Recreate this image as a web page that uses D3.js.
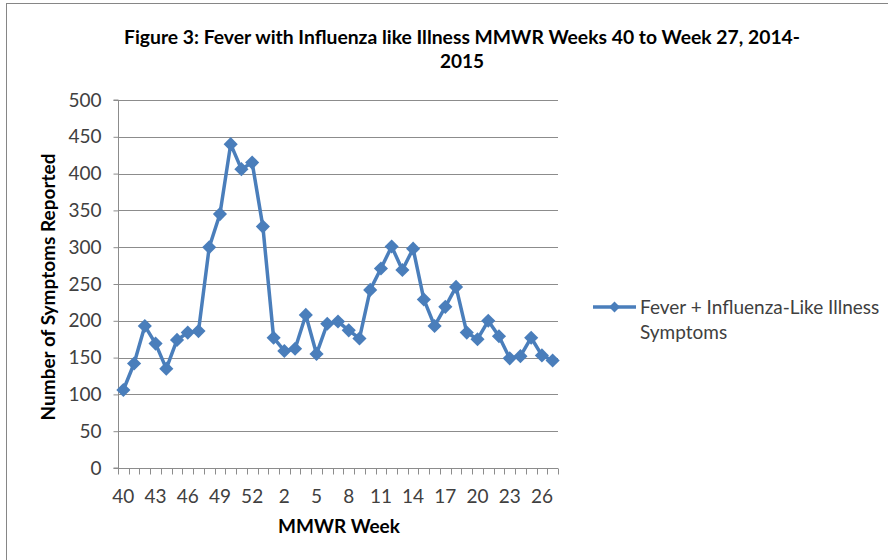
<!DOCTYPE html>
<html>
<head>
<meta charset="utf-8">
<script src="https://cdn.jsdelivr.net/npm/d3@7"></script>
<style>
  body { margin: 0; background: #fff; }
  svg { display: block; font-family: Lato, "Open Sans", sans-serif; }
</style>
</head>
<body>
<div id="chart-area"></div>
<script>
// ** Data **
var weeks = [40, 41, 42, 43, 44, 45, 46, 47, 48, 49, 50, 51, 52, 53,
	1, 2, 3, 4, 5, 6, 7, 8, 9, 10, 11, 12, 13, 14, 15, 16, 17, 18, 19, 20,
	21, 22, 23, 24, 25, 26, 27];
var symptoms = [106, 142, 193, 169, 135, 174, 184, 186, 300, 345, 440, 406, 415, 328,
	177, 159, 162, 208, 155, 196, 199, 187, 176, 242, 271, 301, 269, 298, 229, 193,
	219, 246, 184, 175, 200, 179, 149, 152, 177, 153, 146];
var yTicks = [0, 50, 100, 150, 200, 250, 300, 350, 400, 450, 500];
var seriesName = ["Fever + Influenza-Like Illness", "Symptoms"];

var keys = weeks.map(function(w, i){ return i; });

// ** Dimensions **
var W = 888, H = 560;
var plot = { left: 118, right: 558, top: 100, bottom: 468 };
var blue = "#4a7ebb";
var textColor = "#404040";
var labelSize = 19;

var svg = d3.select("#chart-area")
	.append("svg")
	.attr("width", W)
	.attr("height", H);

// chart frame
svg.append("rect")
	.attr("x", 6.5).attr("y", 3.5)
	.attr("width", 900).attr("height", 600)
	.attr("fill", "none")
	.attr("stroke", "#868686")
	.attr("stroke-width", 1);

// Title
var title = svg.append("text")
	.attr("text-anchor", "middle")
	.attr("font-size", 19)
	.attr("font-weight", "bold")
	.attr("fill", "#000");
title.append("tspan").attr("x", 462).attr("y", 44)
	.attr("textLength", 676).attr("lengthAdjust", "spacingAndGlyphs")
	.text("Figure 3: Fever with Influenza like Illness MMWR Weeks 40 to Week 27, 2014-");
title.append("tspan").attr("x", 462).attr("y", 68)
	.text("2015");

// Scales
var x = d3.scaleBand()
	.domain(keys)
	.range([plot.left, plot.right]);
var y = d3.scaleLinear()
	.domain([0, 500])
	.range([plot.bottom, plot.top]);

// Gridlines
svg.append("g")
	.selectAll("line")
	.data(yTicks.slice(1))
	.enter().append("line")
	.attr("x1", plot.left).attr("x2", plot.right)
	.attr("y1", function(d){ return Math.round(y(d)) + 0.5; })
	.attr("y2", function(d){ return Math.round(y(d)) + 0.5; })
	.attr("stroke", "#8c8c8c")
	.attr("stroke-width", 1);

// Y Axis
var yAxisCall = d3.axisLeft(y)
	.tickValues(yTicks)
	.tickSize(5)
	.tickPadding(12);
var yAxis = svg.append("g")
	.attr("transform", "translate(" + (plot.left + 0.5) + ",0)")
	.call(yAxisCall);
yAxis.select(".domain").attr("stroke", "#8c8c8c").attr("d", "M-5," + plot.top + "H0V" + plot.bottom + "H-5");
yAxis.selectAll(".tick line").attr("stroke", "#8c8c8c");
yAxis.selectAll("text")
	.attr("font-size", labelSize)
	.attr("font-family", "Lato, sans-serif")
	.attr("fill", textColor);

// X Axis: ticks at category boundaries, labels every third week
var xAxis = svg.append("g")
	.attr("transform", "translate(0," + (plot.bottom + 0.5) + ")");
xAxis.append("line")
	.attr("x1", plot.left).attr("x2", plot.right)
	.attr("stroke", "#8c8c8c");
var bounds = keys.concat([keys.length]);
xAxis.selectAll(".xtick")
	.data(bounds)
	.enter().append("line")
	.attr("class", "xtick")
	.attr("x1", function(d){ return Math.round(plot.left + d * x.step()) + 0.5; })
	.attr("x2", function(d){ return Math.round(plot.left + d * x.step()) + 0.5; })
	.attr("y1", 0).attr("y2", 6)
	.attr("stroke", "#8c8c8c");
xAxis.selectAll(".xlabel")
	.data(keys.filter(function(i){ return i % 3 == 0; }))
	.enter().append("text")
	.attr("class", "xlabel")
	.attr("x", function(i){ return x(i) + x.bandwidth() / 2; })
	.attr("y", 34)
	.attr("text-anchor", "middle")
	.attr("font-size", labelSize)
	.attr("fill", textColor)
	.text(function(i){ return weeks[i]; });

// Axis labels
svg.append("text")
	.attr("x", 339)
	.attr("y", 533)
	.attr("text-anchor", "middle")
	.attr("font-size", 19)
	.attr("font-weight", "bold")
	.text("MMWR Week");
svg.append("text")
	.attr("transform", "translate(55,287) rotate(-90)")
	.attr("text-anchor", "middle")
	.attr("font-size", 19)
	.attr("font-weight", "bold")
	.text("Number of Symptoms Reported");

// Line
var line = d3.line()
	.x(function(d, i){ return x(i) + x.bandwidth() / 2; })
	.y(function(d){ return y(d); });
svg.append("path")
	.datum(symptoms)
	.attr("d", line)
	.attr("fill", "none")
	.attr("stroke", blue)
	.attr("stroke-width", 3.5)
	.attr("stroke-linejoin", "round");

// Markers
var diamond = d3.symbol().type(d3.symbolSquare).size(100);
svg.append("g")
	.selectAll("path")
	.data(symptoms)
	.enter().append("path")
	.attr("d", diamond)
	.attr("transform", function(d, i){
		return "translate(" + (x(i) + x.bandwidth() / 2) + "," + y(d) + ") rotate(45)";
	})
	.attr("fill", blue);

// ** Legend **
var legend = svg.append("g").attr("transform", "translate(593,307)");
legend.append("line")
	.attr("x1", 0).attr("x2", 43)
	.attr("stroke", blue).attr("stroke-width", 3.5);
legend.append("path")
	.attr("d", d3.symbol().type(d3.symbolSquare).size(60))
	.attr("transform", "translate(21.5,0) rotate(45)")
	.attr("fill", blue);
var legendText = legend.append("text")
	.attr("font-size", labelSize)
	.attr("fill", textColor);
legendText.append("tspan").attr("x", 47).attr("y", 7).text(seriesName[0]);
legendText.append("tspan").attr("x", 47).attr("y", 32).text(seriesName[1]);
</script>
</body>
</html>
